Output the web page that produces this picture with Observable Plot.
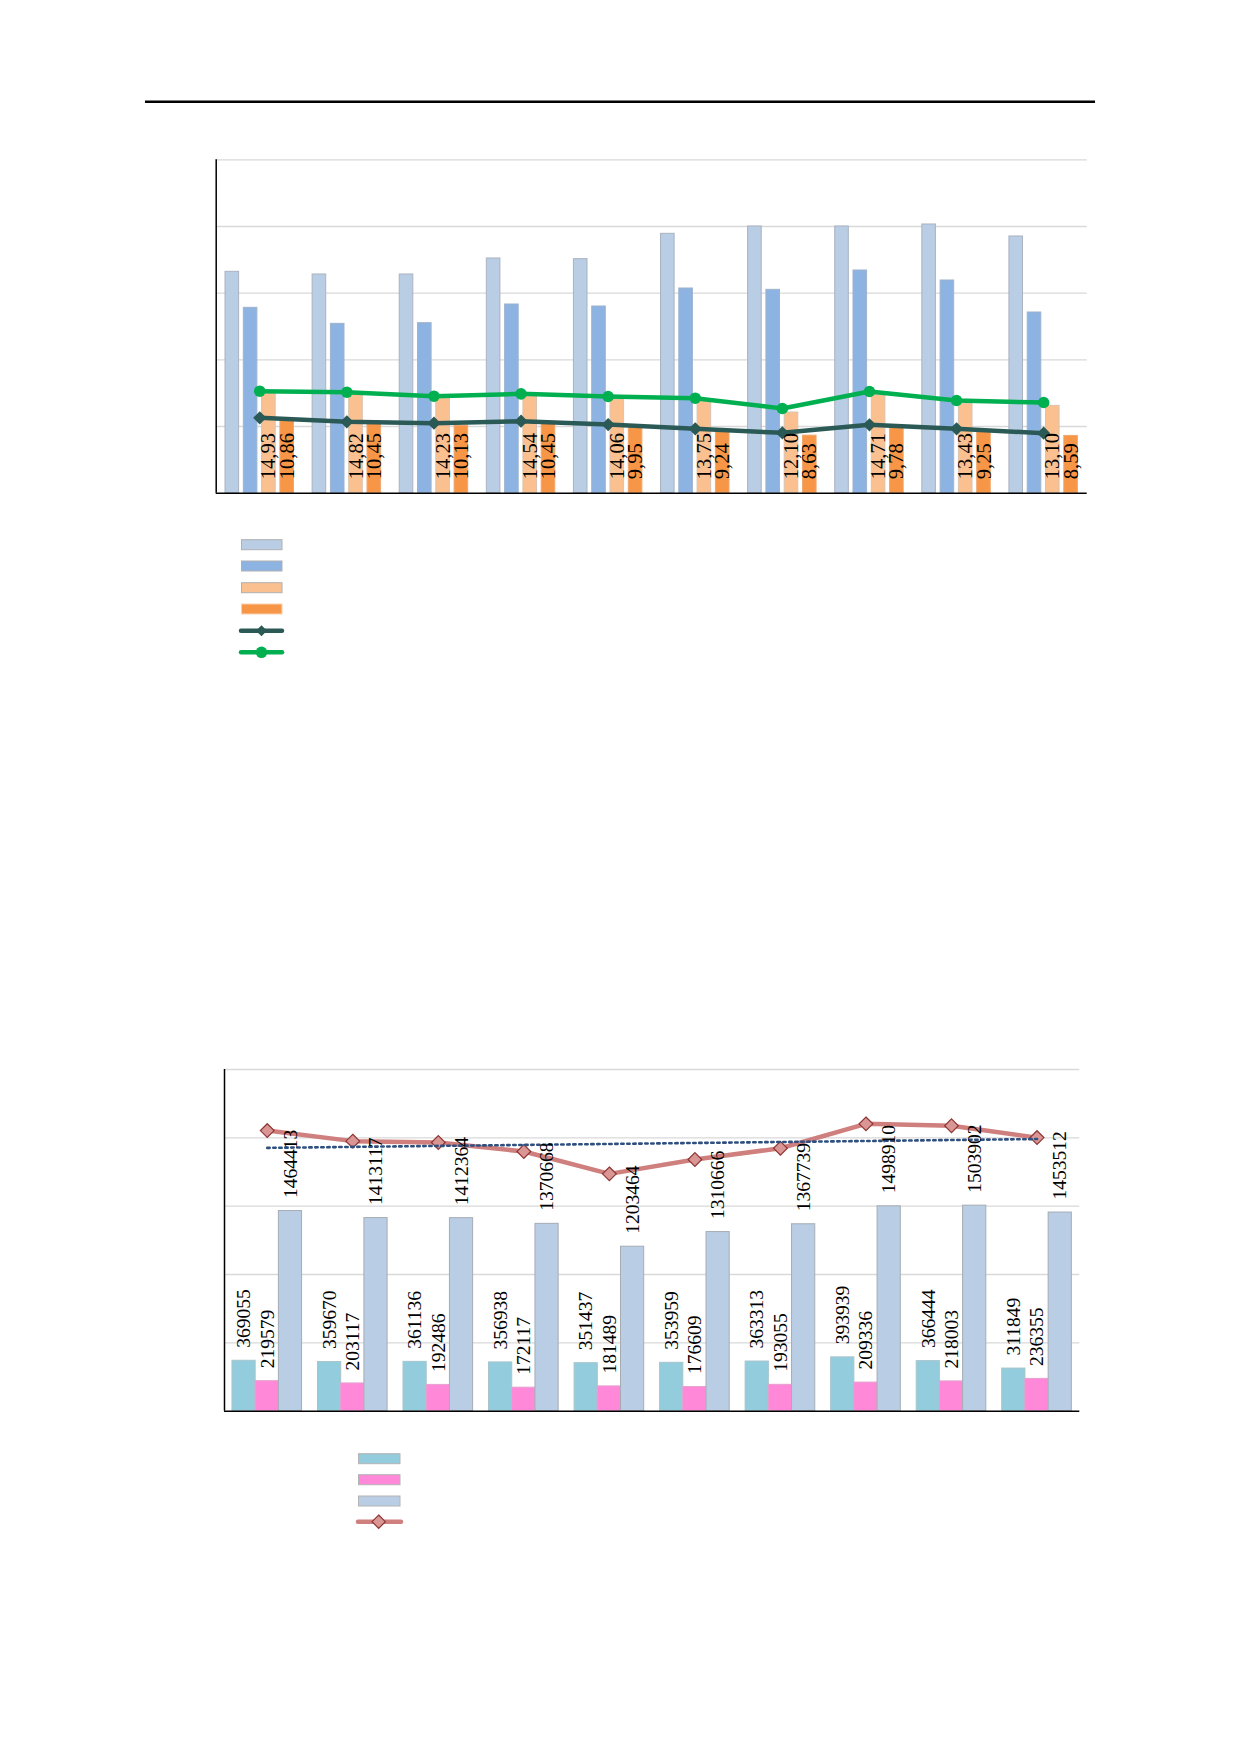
<!DOCTYPE html>
<html><head><meta charset="utf-8">
<script src="https://cdn.jsdelivr.net/npm/d3@7"></script>
<script src="https://cdn.jsdelivr.net/npm/@observablehq/plot@0.6"></script>
<style>
body{margin:0;background:#fff;}
#page{position:relative;width:1240px;height:1754px;overflow:hidden;background:#fff;}
#page > svg, #page > figure{position:absolute;left:0;margin:0;}
</style></head><body><div id="page"></div>
<script>
// ---------- data ----------
const groups = [1, 2, 3, 4, 5, 6, 7, 8, 9, 10];

// chart 1
const c1LightBlue   = [33.2, 32.8, 32.8, 35.2, 35.1, 38.9, 40.0, 40.0, 40.3, 38.5];
const c1Blue        = [27.8, 25.4, 25.5, 28.3, 28.0, 30.7, 30.5, 33.4, 31.9, 27.1];
const c1LightOrange = [14.93, 14.82, 14.23, 14.54, 14.06, 13.75, 12.10, 14.71, 13.43, 13.10];
const c1Orange      = [10.86, 10.45, 10.13, 10.45, 9.95, 9.24, 8.63, 9.78, 9.25, 8.59];
const c1DarkLine    = [11.3, 10.7, 10.5, 10.8, 10.3, 9.65, 9.05, 10.25, 9.65, 9.0];
const c1GreenLine   = [15.3, 15.15, 14.55, 14.9, 14.5, 14.25, 12.7, 15.25, 13.9, 13.6];
const c1GridTicks   = [10, 20, 30, 40, 50];

// chart 2
const c2Cyan      = [369055, 359670, 361136, 356938, 351437, 353959, 363313, 393939, 366444, 311849];
const c2Pink      = [219579, 203117, 192486, 172117, 181489, 176609, 193055, 209336, 218003, 236355];
const c2LightBlue = [1464413, 1413117, 1412364, 1370668, 1203464, 1310666, 1367739, 1498910, 1503902, 1453512];
const c2Line      = [2053047, 1975904, 1965986, 1899723, 1736390, 1841234, 1924107, 2102185, 2088349, 2001716];
const c2GridTicks = [500000, 1000000, 1500000, 2000000, 2500000];

// ---------- styles ----------
const c1Styles = [
  {values: c1LightBlue,   fill: "#b9cde5", stroke: "#a9b3c0", label: false},
  {values: c1Blue,        fill: "#8db3e2", stroke: "#9fb3cc", label: false},
  {values: c1LightOrange, fill: "#fac090", stroke: "#d9c3b0", label: true},
  {values: c1Orange,      fill: "#f79646", stroke: "#f0a870", label: true}
];
const c2Styles = [
  {values: c2Cyan,      fill: "#93cddd", stroke: "#a7c4cc"},
  {values: c2Pink,      fill: "#ff89d8", stroke: "#e6a0cf"},
  {values: c2LightBlue, fill: "#b9cde5", stroke: "#a6acb4"}
];
const labelFont = "'Liberation Serif', 'Times New Roman', serif";
const fmtDec = v => d3.format(".2f")(v).replace(".", ",");

const page = document.getElementById("page");

// ---------- chart 1 ----------
{
  const pitch = 0.21, bw = 0.156;
  const marks = [Plot.ruleY(c1GridTicks, {stroke: "#d9d9d9", strokeWidth: 1.3})];
  c1Styles.forEach((s, k) => {
    const rows = groups.map((g, i) => ({g, v: s.values[i]}));
    const off = (k - 1.5) * pitch;
    marks.push(Plot.rectY(rows, {x1: d => d.g + off - bw / 2, x2: d => d.g + off + bw / 2, y1: 0, y2: "v",
      fill: s.fill, stroke: s.stroke, strokeWidth: 1}));
  });
  const lineRows = groups.map((g, i) => ({g, dark: c1DarkLine[i], green: c1GreenLine[i]}));
  marks.push(
    Plot.line(lineRows, {x: "g", y: "green", stroke: "#00b050", strokeWidth: 4.5}),
    Plot.dot(lineRows, {x: "g", y: "green", r: 5.8, fill: "#00b050", stroke: "none"}),
    Plot.line(lineRows, {x: "g", y: "dark", stroke: "#2b5a56", strokeWidth: 4.5}),
    Plot.dot(lineRows, {x: "g", y: "dark", symbol: "diamond2", r: 5, fill: "#2b5a56", stroke: "#2b5a56"}),
    Plot.ruleX([0.5], {stroke: "#000", strokeWidth: 1.5}),
    Plot.ruleY([0], {stroke: "#000", strokeWidth: 1.5})
  );
  c1Styles.forEach((s, k) => {
    if (!s.label) return;
    const rows = groups.map((g, i) => ({g, v: s.values[i]}));
    const off = (k - 1.5) * pitch;
    marks.push(Plot.text(rows, {x: d => d.g + off, y: 0, text: d => fmtDec(d.v), rotate: -90,
      textAnchor: "start", dy: -14, fontSize: 20.5, fontFamily: labelFont, fill: "#000"}));
  });
  const p = Plot.plot({
    width: 1240, height: 370,
    marginTop: 19.3, marginBottom: 17.3, marginLeft: 215.7, marginRight: 153.3,
    x: {type: "linear", domain: [0.5, 10.5], axis: null},
    y: {domain: [0, 50], axis: null},
    style: {background: "transparent"},
    marks
  });
  p.style.top = "140px";
  page.appendChild(p);
}

// ---------- chart 2 ----------
{
  const pitch = 0.2713;
  const marks = [Plot.ruleY(c2GridTicks, {stroke: "#d9d9d9", strokeWidth: 1.3})];
  c2Styles.forEach((s, k) => {
    const rows = groups.map((g, i) => ({g, v: s.values[i]}));
    const x1 = (k - 1.5) * pitch;
    marks.push(Plot.rectY(rows, {x1: d => d.g + x1, x2: d => d.g + x1 + pitch, y1: 0, y2: "v",
      fill: s.fill, stroke: s.stroke, strokeWidth: 1}));
  });
  const lineRows = groups.map((g, i) => ({g, total: c2Line[i]}));
  marks.push(
    Plot.line(lineRows, {x: "g", y: "total", stroke: "#cf7f7d", strokeWidth: 4.5}),
    Plot.dot(lineRows, {x: "g", y: "total", symbol: "diamond2", r: 6.2, fill: "#d99694", stroke: "#8e3533", strokeWidth: 1.2}),
    Plot.linearRegressionY(lineRows, {x: "g", y: "total", ci: 0, stroke: "#2e4f80", strokeWidth: 2.6, strokeDasharray: "2.4,3.6"}),
    Plot.ruleX([0.5], {stroke: "#000", strokeWidth: 1.5}),
    Plot.ruleY([0], {stroke: "#000", strokeWidth: 1.5})
  );
  c2Styles.forEach((s, k) => {
    const rows = groups.map((g, i) => ({g, v: s.values[i]}));
    const xc = (k - 1) * pitch;
    marks.push(Plot.text(rows, {x: d => d.g + xc, y: "v", text: d => String(d.v), rotate: -90,
      textAnchor: "start", dy: -13, fontSize: 19.5, fontFamily: labelFont, fill: "#000"}));
  });
  const p = Plot.plot({
    width: 1240, height: 380,
    marginTop: 19, marginBottom: 19.3, marginLeft: 224, marginRight: 160.7,
    x: {type: "linear", domain: [0.5, 10.5], axis: null},
    y: {domain: [0, 2500000], axis: null},
    style: {background: "transparent"},
    marks
  });
  p.style.top = "1050px";
  page.appendChild(p);
}

// ---------- overlay: top rule and legends ----------
{
  const svg = d3.select(page).append("svg")
    .attr("width", 1240).attr("height", 1754)
    .style("top", "0px").style("pointer-events", "none");
  svg.append("line").attr("x1", 145).attr("x2", 1095).attr("y1", 101.7).attr("y2", 101.7)
    .attr("stroke", "#000").attr("stroke-width", 2.6);

  // legend 1
  const l1y = [544.7, 566, 587.7, 609];
  c1Styles.forEach((s, k) => {
    svg.append("rect").attr("x", 241.5).attr("y", l1y[k] - 5).attr("width", 40.5).attr("height", 10)
      .attr("fill", s.fill).attr("stroke", k === 3 ? "#fbd0b0" : "#b0b0b0").attr("stroke-width", 1);
  });
  svg.append("line").attr("x1", 241).attr("x2", 282).attr("y1", 630.7).attr("y2", 630.7)
    .attr("stroke", "#2b5a56").attr("stroke-width", 4.5).attr("stroke-linecap", "round");
  svg.append("path").attr("d", d3.symbol(d3.symbolDiamond2, Math.PI * 5 * 5)())
    .attr("transform", "translate(261.5,630.7)").attr("fill", "#2b5a56");
  svg.append("line").attr("x1", 241).attr("x2", 282).attr("y1", 652.3).attr("y2", 652.3)
    .attr("stroke", "#00b050").attr("stroke-width", 4.5).attr("stroke-linecap", "round");
  svg.append("circle").attr("cx", 261.5).attr("cy", 652.3).attr("r", 5.8).attr("fill", "#00b050");

  // legend 2
  const l2y = [1458.7, 1479.7, 1501];
  c2Styles.forEach((s, k) => {
    svg.append("rect").attr("x", 358.5).attr("y", l2y[k] - 5).attr("width", 41.5).attr("height", 10)
      .attr("fill", s.fill).attr("stroke", "#b4b4b4").attr("stroke-width", 1);
  });
  svg.append("line").attr("x1", 358).attr("x2", 401).attr("y1", 1521.7).attr("y2", 1521.7)
    .attr("stroke", "#cf7f7d").attr("stroke-width", 4.5).attr("stroke-linecap", "round");
  svg.append("path").attr("d", d3.symbol(d3.symbolDiamond2, Math.PI * 6 * 6)())
    .attr("transform", "translate(378.7,1521.7)").attr("fill", "#d99694")
    .attr("stroke", "#8e3533").attr("stroke-width", 1.2);
}
</script>
</body></html>
